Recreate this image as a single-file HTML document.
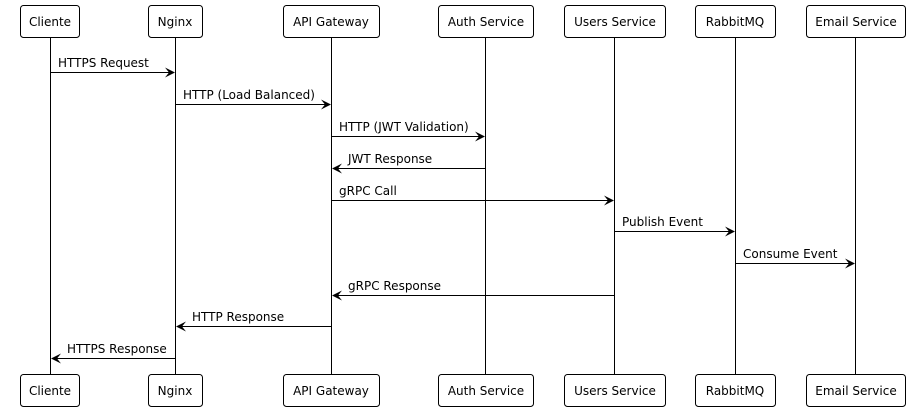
<!DOCTYPE html>
<html><head><meta charset="utf-8"><style>
html,body{margin:0;padding:0;background:#fff;}
svg{display:block;}
text{font-family:"DejaVu Sans","Liberation Sans",sans-serif;font-size:12px;fill:#000;}
</style></head><body>
<svg width="911" height="413" viewBox="0 0 911 413" xmlns="http://www.w3.org/2000/svg">
<g stroke="#000" stroke-width="1">
<line x1="50.5" y1="38" x2="50.5" y2="374"/>
<line x1="175.5" y1="38" x2="175.5" y2="374"/>
<line x1="331.5" y1="38" x2="331.5" y2="374"/>
<line x1="485.5" y1="38" x2="485.5" y2="374"/>
<line x1="614.5" y1="38" x2="614.5" y2="374"/>
<line x1="735.5" y1="38" x2="735.5" y2="374"/>
<line x1="855.5" y1="38" x2="855.5" y2="374"/>
</g>
<g fill="#fff" stroke="#000" stroke-width="1">
<rect x="20.5" y="5.5" width="59" height="32" rx="3"/>
<rect x="148.5" y="5.5" width="54" height="32" rx="3"/>
<rect x="283.5" y="5.5" width="96" height="32" rx="3"/>
<rect x="438.5" y="5.5" width="95" height="32" rx="3"/>
<rect x="564.5" y="5.5" width="101" height="32" rx="3"/>
<rect x="695.5" y="5.5" width="80" height="32" rx="3"/>
<rect x="806.5" y="5.5" width="99" height="32" rx="3"/>
<rect x="20.5" y="374.5" width="59" height="32" rx="3"/>
<rect x="148.5" y="374.5" width="54" height="32" rx="3"/>
<rect x="283.5" y="374.5" width="96" height="32" rx="3"/>
<rect x="438.5" y="374.5" width="95" height="32" rx="3"/>
<rect x="564.5" y="374.5" width="101" height="32" rx="3"/>
<rect x="695.5" y="374.5" width="80" height="32" rx="3"/>
<rect x="806.5" y="374.5" width="99" height="32" rx="3"/>
</g>
<g text-anchor="middle">
<text x="50" y="26">Cliente</text><text x="175" y="26">Nginx</text><text x="331" y="26">API Gateway</text><text x="486" y="26">Auth Service</text><text x="615" y="26">Users Service</text><text x="735" y="26">RabbitMQ</text><text x="856" y="26">Email Service</text>
<text x="50" y="395">Cliente</text><text x="175" y="395">Nginx</text><text x="331" y="395">API Gateway</text><text x="486" y="395">Auth Service</text><text x="615" y="395">Users Service</text><text x="735" y="395">RabbitMQ</text><text x="856" y="395">Email Service</text>
</g>
<g stroke="#000" stroke-width="1">
<line x1="50" y1="72.5" x2="172" y2="72.5"/>
<line x1="175" y1="104.5" x2="328" y2="104.5"/>
<line x1="331" y1="136.5" x2="482" y2="136.5"/>
<line x1="335" y1="168.5" x2="485" y2="168.5"/>
<line x1="331" y1="200.5" x2="611" y2="200.5"/>
<line x1="614" y1="231.5" x2="732" y2="231.5"/>
<line x1="735" y1="263.5" x2="852" y2="263.5"/>
<line x1="335" y1="295.5" x2="614" y2="295.5"/>
<line x1="179" y1="326.5" x2="331" y2="326.5"/>
<line x1="54" y1="358.5" x2="175" y2="358.5"/>
</g>
<g fill="#000">
<polygon points="175,72.5 165,67.5 169,72.5 165,77.5"/>
<polygon points="331,104.5 321,99.5 325,104.5 321,109.5"/>
<polygon points="485,136.5 475,131.5 479,136.5 475,141.5"/>
<polygon points="332,168.5 342,163.5 338,168.5 342,173.5"/>
<polygon points="614,200.5 604,195.5 608,200.5 604,205.5"/>
<polygon points="735,231.5 725,226.5 729,231.5 725,236.5"/>
<polygon points="855,263.5 845,258.5 849,263.5 845,268.5"/>
<polygon points="332,295.5 342,290.5 338,295.5 342,300.5"/>
<polygon points="176,326.5 186,321.5 182,326.5 186,331.5"/>
<polygon points="51,358.5 61,353.5 57,358.5 61,363.5"/>
</g>
<text x="58" y="67">HTTPS Request</text>
<text x="183" y="99">HTTP (Load Balanced)</text>
<text x="339" y="131">HTTP (JWT Validation)</text>
<text x="348" y="163">JWT Response</text>
<text x="339" y="195">gRPC Call</text>
<text x="622" y="226">Publish Event</text>
<text x="743" y="258">Consume Event</text>
<text x="348" y="290">gRPC Response</text>
<text x="192" y="321">HTTP Response</text>
<text x="67" y="353">HTTPS Response</text>
</svg>
</body></html>
